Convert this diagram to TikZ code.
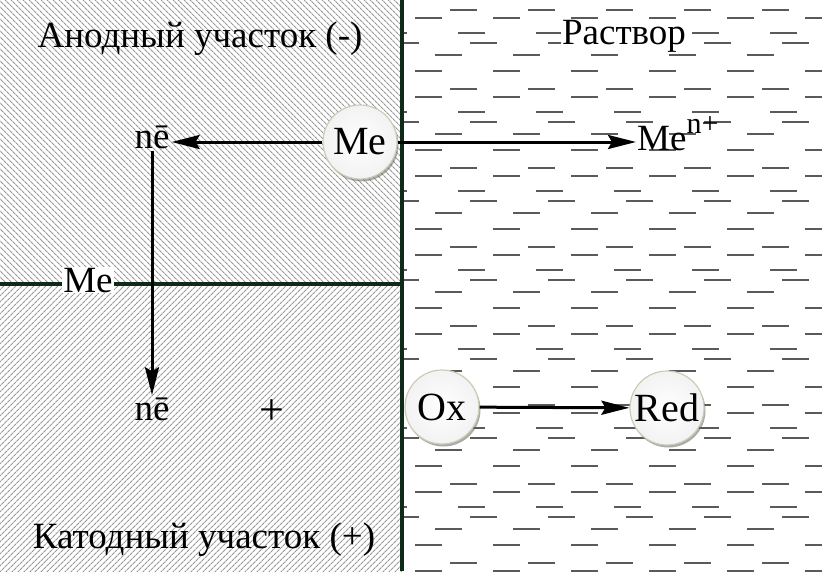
\documentclass[tikz,border=0pt]{standalone}
\usepackage{fontspec}
\setmainfont{Liberation Serif}
\usetikzlibrary{arrows.meta,patterns.meta,shadows}
\definecolor{wallgreen}{RGB}{16,42,26}
\definecolor{dashgray}{RGB}{90,90,90}
\tikzset{
 particle/.style={circle,minimum size=74pt,inner sep=0pt,draw=olive!25!gray!45,line width=1.2pt,
   inner color=white,outer color=gray!10,drop shadow={shadow xshift=1.5pt,shadow yshift=-2.5pt,opacity=.55,fill=gray!80!black},
   font=\fontsize{40}{40}\selectfont},
 lbl/.style={font=\fontsize{37}{38}\selectfont,inner sep=2pt},
 flow/.style={->,line width=3pt},
 wall/.style={wallgreen,line width=4pt},
}
\begin{document}
\begin{tikzpicture}[x=1pt,y=-1pt,>={Stealth[length=28pt,width=14pt,inset=4pt]}]
\useasboundingbox (0,0) rectangle (822,571);
\fill[white] (0,0) rectangle (822,571);
\fill[pattern={Lines[angle=-45,distance=4pt,line width=1.1pt]},pattern color=gray!80] (0,0) rectangle (402,284);
\fill[pattern={Lines[angle=45,distance=4pt,line width=1.1pt]},pattern color=gray!80] (0,284) rectangle (402,571);
\begin{scope}
\clip (402,0) rectangle (822,571);
\foreach \k in {0,...,7}
 \foreach \dy/\dx in {10/48,18/13,33/56,43/68,55/33,71/13}
  \foreach \j in {-1,...,5}
   \draw[dashgray,line width=2.2pt] ({402+\dx+78*\j},{\dy+79*\k}) -- ++(27,0);
\end{scope}
\draw[wall] (0,284) -- (402,284);
\draw[wall] (402,0) -- (402,571);
\node[lbl,anchor=base] (anode) at (200,47) {Анодный участок (-)};
\node[lbl,anchor=base,fill=white,inner sep=1pt] (sol) at (624,44) {Раствор};
\node[lbl,anchor=base] (cathode) at (204,548) {Катодный участок (+)};
\node[lbl,anchor=base,fill=white,inner sep=1pt] (metal) at (88,292) {Me};
\node[lbl,anchor=base] (etop) at (152,148) {nē};
\node[lbl,anchor=base] (ebot) at (152,420) {nē};
\node[lbl,font=\fontsize{44}{44}\selectfont] (plus) at (272,412) {+};
\node[particle] (me) at (360,142) {Me};
\node[lbl,anchor=base west,inner sep=1pt] (ion) at (636,150) {Me\raisebox{17pt}{\fontsize{30}{30}\selectfont n+}};
\node[particle] (ox) at (442,407) {Ox};
\node[particle] (red) at (667,408) {Red};
\draw[flow] (me) -- (me -| etop.east);
\draw[flow] (me) -- (me -| ion.west);
\draw[flow] (etop) -- (ebot);
\draw[flow] (ox) -- (red);
\end{tikzpicture}
\end{document}
